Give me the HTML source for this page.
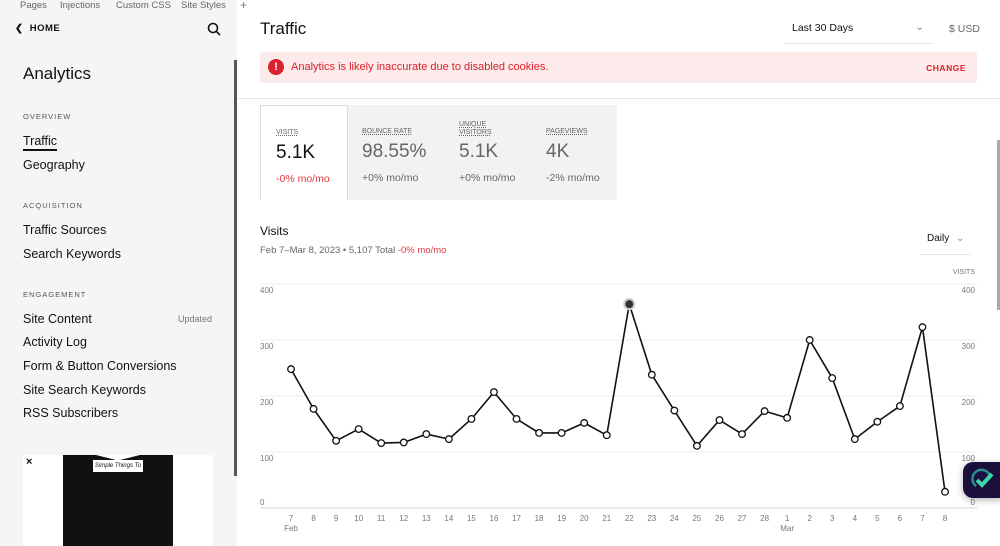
<!DOCTYPE html>
<html><head><meta charset="utf-8">
<style>
*{box-sizing:border-box;margin:0;padding:0}
body{width:1000px;height:546px;overflow:hidden;background:#fff;font-family:"Liberation Sans",sans-serif;color:#111;position:relative}
.abs{position:absolute}
#side{left:0;top:0;width:237px;height:546px;background:#f5f5f5}
.tab{top:0;font-size:9.5px;color:#666}
.sec{font-size:7.5px;letter-spacing:1px;color:#555;left:23px}
.item{font-size:12.5px;left:23px;color:#111}
.tile{top:105px;height:95px;}
.lab{font-size:7px;color:#666;text-decoration:underline dotted;line-height:8px}
.big{font-size:19px;color:#666}
.chg{font-size:10.5px;color:#666}
</style></head><body>
<div id="side" class="abs">
  <div class="abs tab" style="left:20px">Pages</div>
  <div class="abs tab" style="left:60px">Injections</div>
  <div class="abs tab" style="left:116px">Custom CSS</div>
  <div class="abs tab" style="left:181px">Site Styles</div>
  <div class="abs" style="left:240px;top:-2px;font-size:12px;color:#777">+</div>
  <div class="abs" style="left:15px;top:23px;font-size:9.5px;font-weight:bold;letter-spacing:.5px">&#10094;&nbsp; HOME</div>
  <svg class="abs" style="left:207px;top:22px" width="14" height="14"><circle cx="6" cy="6" r="4.5" stroke="#111" stroke-width="1.6" fill="none"/><line x1="9.3" y1="9.3" x2="13" y2="13" stroke="#111" stroke-width="1.6"/></svg>
  <div class="abs" style="left:23px;top:64px;font-size:17px">Analytics</div>
  <div class="abs sec" style="top:112px">OVERVIEW</div>
  <div class="abs item" style="top:134px;border-bottom:2px solid #111;padding-bottom:1px">Traffic</div>
  <div class="abs item" style="top:158px">Geography</div>
  <div class="abs sec" style="top:201px">ACQUISITION</div>
  <div class="abs item" style="top:223px">Traffic Sources</div>
  <div class="abs item" style="top:247px">Search Keywords</div>
  <div class="abs sec" style="top:290px">ENGAGEMENT</div>
  <div class="abs item" style="top:312px">Site Content</div>
  <div class="abs" style="left:178px;top:314px;font-size:9px;color:#777">Updated</div>
  <div class="abs item" style="top:335px">Activity Log</div>
  <div class="abs item" style="top:359px">Form &amp; Button Conversions</div>
  <div class="abs item" style="top:383px">Site Search Keywords</div>
  <div class="abs item" style="top:406px">RSS Subscribers</div>
  <div class="abs" style="left:23px;top:455px;width:190px;height:91px;background:#fff">
    <div class="abs" style="left:40px;top:0;width:110px;height:91px;background:#111;clip-path:polygon(0 0,30% 0,50% 6%,70% 0,100% 0,100% 100%,0 100%)"></div>
    <div class="abs" style="left:70px;top:5px;width:50px;height:12px;background:#fff;font-size:6px;font-style:italic;text-align:center;line-height:12px">Simple Things To Do</div>
    <div class="abs" style="left:3px;top:1px;font-size:11px;font-weight:bold">×</div>
  </div>
  <div class="abs" style="left:234px;top:60px;width:3px;height:416px;background:#555"></div>
</div>

<div class="abs" style="left:260px;top:19px;font-size:17px">Traffic</div>
<div class="abs" style="left:784px;top:22px;width:150px;height:22px;border-bottom:1px solid #e6e6e6;font-size:10.5px;padding-left:8px">Last 30 Days<span style="position:absolute;right:10px;top:-1px;color:#888">&#8964;</span></div>
<div class="abs" style="left:949px;top:23px;font-size:10.5px;color:#666">$ USD</div>
<div class="abs" style="left:260px;top:52px;width:717px;height:31px;background:#fdeaea;border-radius:3px">
  <div class="abs" style="left:8px;top:7px;width:16px;height:16px;border-radius:50%;background:#d9222b;color:#fff;font-size:11px;font-weight:bold;text-align:center;line-height:16px">!</div>
  <div class="abs" style="left:31px;top:9px;font-size:11px;color:#d9222b">Analytics is likely inaccurate due to disabled cookies.</div>
  <div class="abs" style="right:11px;top:11px;font-size:8.5px;font-weight:bold;color:#d9222b;letter-spacing:.5px">CHANGE</div>
</div>
<div class="abs" style="left:237px;top:98px;width:763px;height:1px;background:#e8e8e8"></div>
<div class="abs" style="left:997px;top:140px;width:3px;height:170px;background:#aaa"></div>

<div class="abs tile" style="left:260px;width:357px;background:#f2f2f2"></div>
<div class="abs tile" style="left:260px;width:88px;background:#fff;border:1px solid #ddd;border-bottom:none">
  <div class="abs lab" style="left:15px;top:23px">VISITS</div>
  <div class="abs big" style="left:15px;top:36px;color:#111">5.1K</div>
  <div class="abs chg" style="left:15px;top:67px;color:#e0393e">-0% mo/mo</div>
</div>
<div class="abs tile" style="left:348px;width:90px">
  <div class="abs lab" style="left:14px;top:23px">BOUNCE RATE</div>
  <div class="abs big" style="left:14px;top:36px">98.55%</div>
  <div class="abs chg" style="left:14px;top:67px">+0% mo/mo</div>
</div>
<div class="abs tile" style="left:438px;width:90px">
  <div class="abs lab" style="left:21px;top:16px">UNIQUE<br>VISITORS</div>
  <div class="abs big" style="left:21px;top:36px">5.1K</div>
  <div class="abs chg" style="left:21px;top:67px">+0% mo/mo</div>
</div>
<div class="abs tile" style="left:528px;width:89px">
  <div class="abs lab" style="left:18px;top:23px">PAGEVIEWS</div>
  <div class="abs big" style="left:18px;top:36px">4K</div>
  <div class="abs chg" style="left:18px;top:67px">-2% mo/mo</div>
</div>

<div class="abs" style="left:260px;top:224px;font-size:12px">Visits</div>
<div class="abs" style="left:260px;top:245px;font-size:9.5px;color:#666">Feb 7–Mar 8, 2023 • 5,107 Total <span style="color:#e0393e">-0% mo/mo</span></div>
<div class="abs" style="left:920px;top:233px;width:50px;height:22px;border-bottom:1px solid #e6e6e6;font-size:10px;padding-left:7px">Daily <span style="color:#888;margin-left:4px">&#8964;</span></div>

<svg id="chart" class="abs" style="left:0;top:0" width="1000" height="546"></svg>

<div class="abs" style="left:963px;top:462px;width:40px;height:36px;border-radius:10px 0 0 10px;background:#1a0f3d;box-shadow:0 2px 8px rgba(0,0,0,.3)">
  <svg width="40" height="36"><path d="M13 24 A9 9 0 1 1 27 14" stroke="#2a8f8f" stroke-width="2.5" fill="none"/><path d="M14 18 l5 5 l10 -11" stroke="#3cd6a8" stroke-width="4" fill="none"/></svg>
</div>

<script>
const categories=["7","8","9","10","11","12","13","14","15","16","17","18","19","20","21","22","23","24","25","26","27","28","1","2","3","4","5","6","7","8"];
const monthLabels=["Feb","","","","","","","","","","","","","","","","","","","","","","Mar","","","","","","",""];
const visits=[248,177,120,141,116,117,132,123,159,207,159,134,134,152,130,364,238,174,111,157,132,173,161,300,232,123,154,182,323,29];
const yTicks=[0,100,200,300,400];
const highlightIndex=15;

const svg=document.getElementById('chart');
const NS='http://www.w3.org/2000/svg';
const X0=291,X1=945,Y0=508,Y1=284,YMAX=400;
const xs=i=>X0+(X1-X0)*i/(categories.length-1);
const ys=v=>Y0-(Y0-Y1)*v/YMAX;
function mk(t,a){const e=document.createElementNS(NS,t);for(const k in a)e.setAttribute(k,a[k]);svg.appendChild(e);return e;}

yTicks.forEach(t=>{
  const g=mk('line',{x1:260,x2:977,y1:ys(t),y2:ys(t),stroke:t===0?'#d5d5d5':'#ececec','stroke-width':1});
  
  
  const ly=t===0?ys(t)-3:ys(t)+9;
  const l=mk('text',{x:260,y:ly,'font-size':8,fill:'#777','font-family':'Liberation Sans'});
  l.textContent=t;
  
  
  const r=mk('text',{x:975,y:ly,'font-size':8,fill:'#777','text-anchor':'end','font-family':'Liberation Sans'});
  r.textContent=t;
  
  
});
const yt=mk('text',{x:975,y:274,'font-size':7,fill:'#777','text-anchor':'end','font-family':'Liberation Sans'});
yt.textContent='VISITS';



categories.forEach((c,i)=>{
  const t=mk('text',{x:xs(i),y:521,'font-size':8,fill:'#777','text-anchor':'middle','font-family':'Liberation Sans'});
  t.textContent=c;
  
  
  if(monthLabels[i]){
    const m=mk('text',{x:xs(i),y:531,'font-size':8,fill:'#777','text-anchor':'middle','font-family':'Liberation Sans'});
    m.textContent=monthLabels[i];
    
    
  }
});

const line=mk('polyline',{points:visits.map((v,i)=>xs(i)+','+ys(v)).join(' '),fill:'none',stroke:'#111','stroke-width':1.6,'stroke-linejoin':'round'});


visits.forEach((v,i)=>{
  if(i===highlightIndex){
    mk('circle',{cx:xs(i),cy:ys(v),r:6,fill:'#ccc'});
    const p=mk('circle',{cx:xs(i),cy:ys(v),r:4,fill:'#333'});
    
    
  }else{
    const p=mk('circle',{cx:xs(i),cy:ys(v),r:3.3,fill:'#fff',stroke:'#111','stroke-width':1.3});
    
    
  }
});
</script>
</body></html>
